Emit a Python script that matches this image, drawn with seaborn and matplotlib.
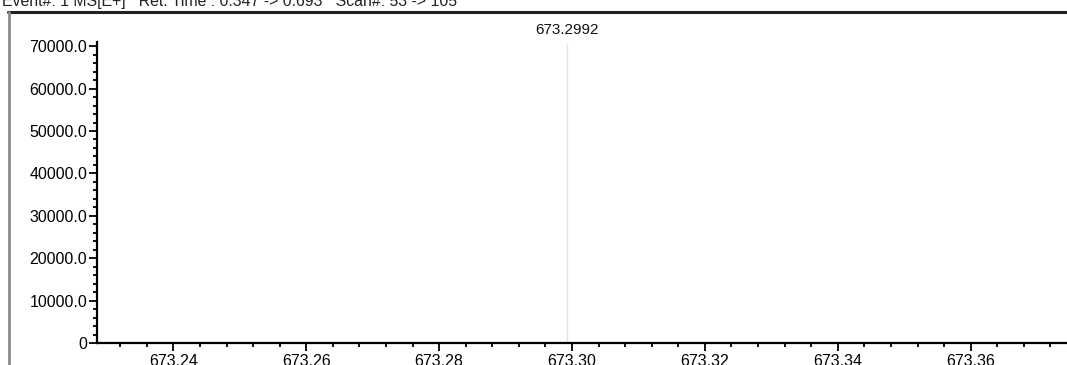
import matplotlib
matplotlib.use("Agg")
import matplotlib.pyplot as plt
from matplotlib.lines import Line2D
from matplotlib.ticker import MultipleLocator, FuncFormatter
import seaborn as sns
import pandas as pd

# ---- data ----
peak_mz = [673.2992]
peak_intensity = [70800.0]
peak_labels = ["673.2992"]
title_text = "Event#: 1 MS[E+]   Ret. Time : 0.347 -> 0.693   Scan#: 53 -> 105"
x_range = (673.2285, 673.3745)
y_range = (0, 71000)

df = pd.DataFrame({"mz": peak_mz, "intensity": peak_intensity, "label": peak_labels})

sns.set_theme(style="ticks")
plt.rcParams["font.family"] = ["Liberation Sans", "DejaVu Sans"]

fig = plt.figure(figsize=(10.67, 3.65), dpi=100)
ax = fig.add_axes([0.0909, 0.0603, 0.9091, 0.8247])

ax.vlines(df["mz"], 0, df["intensity"], color="#e4e4e4", linewidth=1.0)
for _, r in df.iterrows():
    ax.annotate(r["label"], (r["mz"], r["intensity"]), xytext=(0, 4),
                textcoords="offset points", ha="center", va="bottom",
                fontsize=11, color="#111111")

ax.set_xlim(*x_range)
ax.set_ylim(*y_range)

ax.xaxis.set_major_locator(MultipleLocator(0.02))
ax.xaxis.set_minor_locator(MultipleLocator(0.004))
ax.yaxis.set_major_locator(MultipleLocator(10000))
ax.yaxis.set_minor_locator(MultipleLocator(2000))
ax.xaxis.set_major_formatter(FuncFormatter(lambda v, p: f"{v:.2f}"))
ax.yaxis.set_major_formatter(FuncFormatter(lambda v, p: "0" if abs(v) < 1e-9 else f"{v:.1f}"))

for s in ["top", "right"]:
    ax.spines[s].set_visible(False)
for s in ["left", "bottom"]:
    ax.spines[s].set_linewidth(1.6)
    ax.spines[s].set_color("black")

ax.tick_params(axis="both", which="major", direction="out", length=6, width=1.3,
               colors="black", labelsize=11.5, pad=1)
ax.tick_params(axis="both", which="minor", direction="out", length=3, width=1.3, colors="black")
ax.tick_params(axis="x", which="major", pad=2)
ax.set_xlabel("")
ax.set_ylabel("")
ax.patch.set_alpha(0)

# outer frame (top dark line, left gray line)
fig.add_artist(Line2D([8/1067, 1.0], [1 - 12/365, 1 - 12/365], transform=fig.transFigure,
                      color="#222222", linewidth=2.2))
fig.add_artist(Line2D([9/1067, 9/1067], [0, 1 - 12/365], transform=fig.transFigure,
                      color="#8a8a8a", linewidth=2.0))
fig.text(2/1067, 1 - 9/365, title_text, fontsize=11.4, ha="left", va="bottom", color="#222222")

fig.savefig("out.png", dpi=100)
